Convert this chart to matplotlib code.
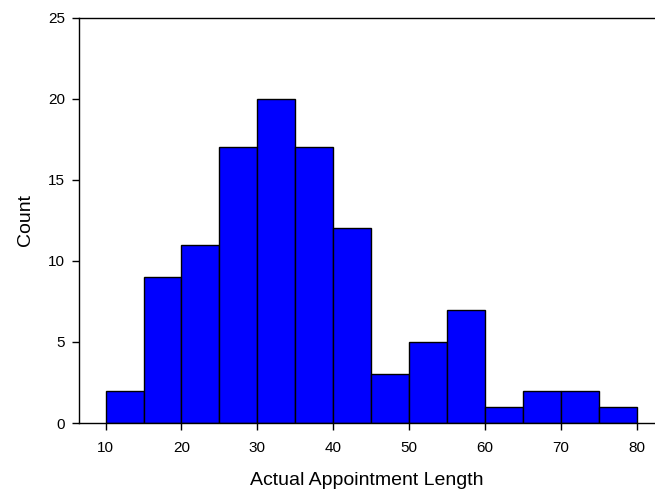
import matplotlib
matplotlib.use("Agg")
import matplotlib.pyplot as plt

# histogram bins (left edges) and counts
bin_edges = [10, 15, 20, 25, 30, 35, 40, 45, 50, 55, 60, 65, 70, 75, 80]
counts = [2, 9, 11, 17, 20, 17, 12, 3, 5, 7, 1, 2, 2, 1]

plt.rcParams["font.family"] = ["Liberation Sans", "DejaVu Sans"]

fig = plt.figure(figsize=(6.55, 4.94), dpi=100)
ax = fig.add_axes([0.1206, 0.1437, 0.878, 0.8205])

ax.hist(bin_edges[:-1], bins=bin_edges, weights=counts,
        color="#0000ff", edgecolor="black", linewidth=1.0)

ax.set_xlim(6.5, 82.25)
ax.set_ylim(0, 25)
ax.set_xticks([10, 20, 30, 40, 50, 60, 70, 80])
ax.set_yticks([0, 5, 10, 15, 20, 25])
ax.tick_params(direction="out", length=5, width=1, labelsize=11)
ax.tick_params(axis="x", pad=8)
ax.tick_params(axis="y", pad=5)
ax.spines["right"].set_visible(False)
for s in ["left", "top", "bottom"]:
    ax.spines[s].set_linewidth(1.0)

ax.set_xlabel("Actual Appointment Length", fontsize=14, labelpad=12)
ax.set_ylabel("Count", fontsize=14, labelpad=10)

fig.savefig("out.png", dpi=100)
